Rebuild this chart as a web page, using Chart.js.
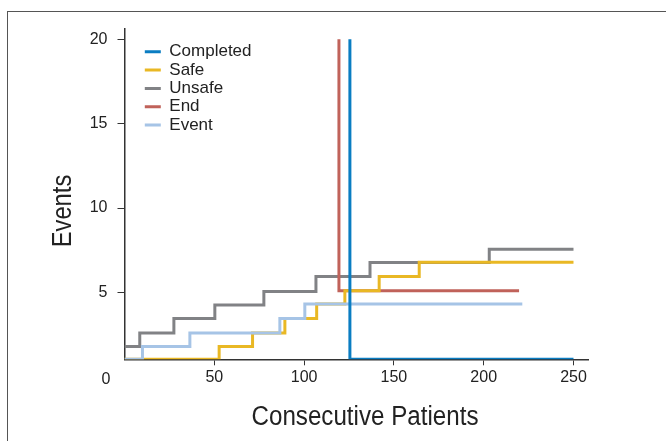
<!DOCTYPE html>
<html>
<head>
<meta charset="utf-8">
<script src="https://cdn.jsdelivr.net/npm/chart.js@4.4.0/dist/chart.umd.min.js"></script>
<style>
  body { margin: 0; background: #fff; }
  #wrap { position: relative; width: 666px; height: 441px; overflow: hidden; }
  #frame { position: absolute; left: 7px; top: 11px; width: 700px; height: 460px;
           border-left: 1.5px solid #555; border-top: 1.5px solid #555; }
  #chart { position: absolute; left: 0; top: 0; }
</style>
</head>
<body>
<div id="wrap">
  <div id="frame"></div>
  <canvas id="chart" width="666" height="441"></canvas>
</div>
<script>
// step points: x = consecutive patient, y = events level after that patient
const completedX = [125.5, 125.5, 250];
const completedY = [20, 1.05, 1.05];
const safeX = [0, 52.7, 71.3, 89.3, 107, 122.7, 141.8, 164.1, 250];
const safeY = [1.05, 1.81, 2.6, 3.46, 4.33, 5.1, 5.95, 6.8, 6.8];
const unsafeX = [0, 8.5, 27.5, 50.3, 77.6, 106.6, 136.7, 203.1, 250];
const unsafeY = [1.81, 2.6, 3.46, 4.26, 5.06, 5.95, 6.78, 7.57, 7.57];
const endX = [119.4, 119.4, 219.7];
const endY = [20, 5.1, 5.1];
const eventX = [0, 10, 36.4, 86.5, 100.4, 221.5];
const eventY = [1.05, 1.81, 2.6, 3.46, 4.33, 4.33];

const xTicks = [50, 100, 150, 200, 250];
const yTicks = [5, 10, 15, 20];

const tickFont = { family: "'Liberation Sans', Arial, sans-serif", size: 16 };
const titleFont = "27px 'Liberation Sans', Arial, sans-serif";

function points(xs, ys) {
    return xs.map((x, i) => ({ x: x, y: ys[i] }));
}

function makeSet(label, xs, ys, color, order) {
    return {
        label: label,
        data: points(xs, ys),
        borderColor: color,
        backgroundColor: color,
        borderWidth: 3,
        pointRadius: 0,
        stepped: 'before',
        borderCapStyle: 'butt',
        borderJoinStyle: 'miter',
        order: order
    };
}

// extra text and legend offset
const extras = {
    id: 'extras',
    afterLayout(chart) {
        chart.legend.left += 19;
        chart.legend.top += 42;
    },
    afterDraw(chart) {
        const ctx = chart.ctx;
        const x = chart.scales.x, y = chart.scales.y;
        ctx.save();
        ctx.fillStyle = '#222';
        ctx.font = "16px 'Liberation Sans', Arial, sans-serif";
        ctx.textAlign = 'right';
        ctx.textBaseline = 'middle';
        ctx.fillText('0', y.right - 14, x.top + 20);

        // condensed look for the axis titles
        ctx.font = titleFont;
        ctx.textAlign = 'center';
        ctx.save();
        ctx.translate(365, 418);
        ctx.scale(0.895, 1);
        ctx.fillText('Consecutive Patients', 0, 0);
        ctx.restore();
        ctx.translate(64, 211);
        ctx.rotate(-Math.PI / 2);
        ctx.scale(0.88, 1);
        ctx.fillText('Events', 0, 0);
        ctx.restore();
    }
};

new Chart(document.getElementById('chart'), {
    type: 'line',
    data: {
        datasets: [
            makeSet('Completed', completedX, completedY, '#0a7dc2', 0),
            makeSet('Safe', safeX, safeY, '#e9b824', 2),
            makeSet('Unsafe', unsafeX, unsafeY, '#818285', 4),
            makeSet('End', endX, endY, '#c0625a', 3),
            makeSet('Event', eventX, eventY, '#a6c4e6', 1)
        ]
    },
    options: {
        responsive: false,
        animation: false,
        layout: { padding: { top: 29, right: 77.6, left: 0, bottom: 0 } },
        plugins: {
            tooltip: { enabled: false },
            legend: {
                position: 'chartArea',
                align: 'start',
                labels: {
                    boxWidth: 16,
                    boxHeight: 3,
                    padding: 1.3,
                    color: '#222',
                    font: { family: "'Liberation Sans', Arial, sans-serif", size: 17 },
                    sort: (a, b) => a.datasetIndex - b.datasetIndex,
                    generateLabels: chart => Chart.defaults.plugins.legend.labels.generateLabels(chart)
                        .map(l => Object.assign(l, { lineWidth: 0 }))
                }
            }
        },
        scales: {
            x: {
                type: 'linear',
                min: 0,
                max: 258.3,
                afterBuildTicks: s => { s.ticks = xTicks.map(v => ({ value: v })); },
                afterFit: s => { s.height = 81.7; },
                border: { color: '#333', width: 1.5 },
                grid: { display: true, drawOnChartArea: false, tickLength: 6, tickColor: '#333', tickWidth: 1 },
                ticks: { color: '#222', font: tickFont, padding: 3 }
            },
            y: {
                min: 1.05,
                max: 20.6,
                afterBuildTicks: s => { s.ticks = yTicks.map(v => ({ value: v })); },
                afterFit: s => { s.width = 124.5; },
                border: { color: '#333', width: 1.5 },
                grid: { display: true, drawOnChartArea: false, tickLength: 7, tickColor: '#333', tickWidth: 1 },
                ticks: { color: '#222', font: tickFont, padding: 10 }
            }
        }
    },
    plugins: [extras]
});
</script>
</body>
</html>
